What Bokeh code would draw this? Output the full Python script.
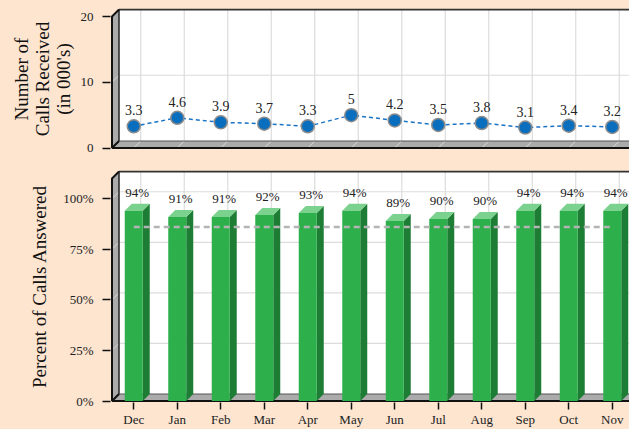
from bokeh.plotting import figure
from bokeh.layouts import column
from bokeh.models import Range1d, FixedTicker, ColumnDataSource
from bokeh.embed import file_html
from bokeh.resources import INLINE
from bokeh.core.properties import value

# ---------------- data ----------------
months = ["Dec", "Jan", "Feb", "Mar", "Apr", "May", "Jun", "Jul", "Aug", "Sep", "Oct", "Nov"]
calls = [3.3, 4.6, 3.9, 3.7, 3.3, 5.0, 4.2, 3.5, 3.8, 3.1, 3.4, 3.2]
answered = [94, 91, 91, 92, 93, 94, 89, 90, 90, 94, 94, 94]
target = [86, 86, 86, 86, 86, 86, 86, 86, 86, 86, 86, 86]
calls_ticks = [0, 10, 20]
pct_ticks = [0, 25, 50, 75, 100]
calls_max = 20
pct_max = 110

# ---------------- style ----------------
BG = "#FDE5D0"
FONT = "Liberation Serif"
WALL = "#ABABAB"
GRID = "#DCDCDC"
ML = 110            # left border (axis position)
FW = 519            # frame width (chart is clipped at the right, like the original)
KX = 43.5           # pixels per category
DXP, DYP = 7, 7
PADL, PADB, PADT = 1.5, 1.5, 1.0
n = len(months)
dx = DXP / KX
xs_idx = list(range(n))


def base_fig(fh, ymax, grid_vals, mb_top, mb_bottom, with_x):
    ky = (fh - DYP - PADB - PADT) / ymax
    dy = DYP / ky
    x0 = -0.5 - PADL / KX
    p = figure(frame_width=FW, frame_height=fh,
               x_range=Range1d(x0, x0 + FW / KX),
               y_range=Range1d(-PADB / ky, ymax + dy + PADT / ky),
               output_backend="svg", toolbar_location=None,
               x_axis_location="below" if with_x else None,
               min_border_left=ML, min_border_right=0,
               min_border_top=mb_top, min_border_bottom=mb_bottom,
               background_fill_color=BG, border_fill_color=BG,
               outline_line_color=None)
    p.xgrid.visible = False
    p.ygrid.visible = False
    L, R = -0.5, n - 0.5
    # back plane
    p.quad(left=L + dx, right=R + dx, bottom=dy, top=ymax + dy,
           fill_color="white", line_color=None)
    # grid lines on back plane
    gv = [v for v in grid_vals if 0 < v < ymax]
    p.segment(x0=[L + dx] * len(gv), x1=[R + dx] * len(gv),
              y0=[v + dy for v in gv], y1=[v + dy for v in gv],
              line_color=GRID, line_width=1.2)
    p.segment(x0=[i + dx for i in xs_idx], x1=[i + dx for i in xs_idx],
              y0=[dy] * n, y1=[ymax + dy] * n, line_color=GRID, line_width=1.2)
    # left wall and floor
    p.patch(x=[L, L, L + dx, L + dx], y=[0, ymax, ymax + dy, dy],
            fill_color=WALL, line_color=None)
    p.patch(x=[L, R, R + dx, L + dx], y=[0, 0, dy, dy],
            fill_color=WALL, line_color=None)
    p.segment(x0=[L] * len(gv), x1=[L + dx] * len(gv), y0=gv,
              y1=[v + dy for v in gv], line_color="#D6D6D6", line_width=1)
    p.segment(x0=xs_idx, x1=[i + dx for i in xs_idx], y0=[0] * n, y1=[dy] * n,
              line_color="#DADADA", line_width=1)
    # edges
    p.line(x=[L + dx, R + dx + 1], y=[ymax + dy, ymax + dy], line_color="#333333", line_width=2)
    p.line(x=[L + dx, L + dx], y=[dy, ymax + dy], line_color="#222222", line_width=1.5)
    p.line(x=[L + dx, R + dx], y=[dy, dy], line_color="#555555", line_width=1)
    p.line(x=[L, L, L + dx], y=[0, ymax, ymax + dy], line_color="#111111", line_width=2)
    p.line(x=[L + dx, L, R, R + dx], y=[dy, 0, 0, dy], line_color="#111111", line_width=2)
    # y axis
    ax = p.yaxis[0]
    ax.ticker = FixedTicker(ticks=grid_vals)
    ax.axis_line_color = None
    ax.minor_tick_line_color = None
    ax.major_tick_line_color = "#111111"
    ax.major_tick_line_width = 1.5
    ax.major_tick_out = 8
    ax.major_tick_in = 0
    ax.major_label_standoff = 9
    ax.major_label_text_font = FONT
    ax.major_label_text_font_size = "13px"
    ax.major_label_text_color = "#222222"
    ax.axis_label_text_font = FONT
    ax.axis_label_text_font_size = "19px"
    ax.axis_label_text_font_style = "normal"
    ax.axis_label_text_color = "#111111"
    return p, dy


# ---------------- top: calls received ----------------
p1, dy1 = base_fig(141, calls_max, calls_ticks, 8, 11, False)
p1.yaxis[0].axis_label = "Number of\nCalls Received\n(in 000's)"
p1.yaxis[0].axis_label_text_line_height = 1.0
p1.yaxis[0].axis_label_standoff = 4
src1 = ColumnDataSource(dict(x=xs_idx, y=calls, t=[f"{v:g}" for v in calls]))
p1.line(x="x", y="y", source=src1, line_color="#1A73C4", line_width=1.5, line_dash="4 3")
p1.scatter(x="x", y="y", source=src1, size=13, fill_color="#0A6EBE",
           line_color="#8C8C8C", line_width=1.5)
p1.text(x="x", y="y", text="t", source=src1, text_font=value(FONT),
        text_font_size="14px", text_align="center", text_baseline="bottom",
        text_color="#222222", y_offset=-11)

# ---------------- bottom: percent answered ----------------
p2, dy2 = base_fig(232, pct_max, pct_ticks, 10, 24, True)
p2.yaxis[0].axis_label = "Percent of Calls Answered"
p2.yaxis[0].axis_label_standoff = 10
p2.yaxis[0].major_label_overrides = {v: f"{v}%" for v in pct_ticks}
xa = p2.xaxis[0]
xa.ticker = FixedTicker(ticks=xs_idx)
xa.major_label_overrides = {i: m for i, m in enumerate(months)}
xa.axis_line_color = None
xa.minor_tick_line_color = None
xa.major_tick_line_color = "#111111"
xa.major_tick_line_width = 1.5
xa.major_tick_out = 7
xa.major_tick_in = 0
xa.major_label_standoff = 2
xa.major_label_text_font = FONT
xa.major_label_text_font_size = "13px"
xa.major_label_text_color = "#222222"

hw = 9 / KX
bar_src = ColumnDataSource(dict(
    left=[i - hw for i in xs_idx], right=[i + hw for i in xs_idx],
    top=answered, bottom=[0] * n))
side_xs = [[i + hw, i + hw + dx, i + hw + dx, i + hw] for i in xs_idx]
side_ys = [[0, dy2, v + dy2, v] for v in answered]
top_xs = [[i - hw, i + hw, i + hw + dx, i - hw + dx] for i in xs_idx]
top_ys = [[v, v, v + dy2, v + dy2] for v in answered]
p2.patches(xs=side_xs, ys=side_ys, fill_color="#1E7D35", line_color=None)
p2.patches(xs=top_xs, ys=top_ys, fill_color="#7BD18E", line_color=None)
p2.quad(left="left", right="right", top="top", bottom="bottom", source=bar_src,
        fill_color="#2DB04B", line_color=None)
p2.line(x=xs_idx, y=target, line_color="#B4B4B4", line_width=2.5, line_dash="6 4")
src2 = ColumnDataSource(dict(x=[i + dx / 2 for i in xs_idx],
                             y=[v + dy2 for v in answered],
                             t=[f"{v}%" for v in answered]))
p2.text(x="x", y="y", text="t", source=src2, text_font=value(FONT),
        text_font_size="13px", text_align="center", text_baseline="bottom",
        text_color="#222222", y_offset=-4)

layout = column(p1, p2, spacing=0, styles={"background-color": BG})
open("out.html", "w").write(file_html(layout, INLINE))
